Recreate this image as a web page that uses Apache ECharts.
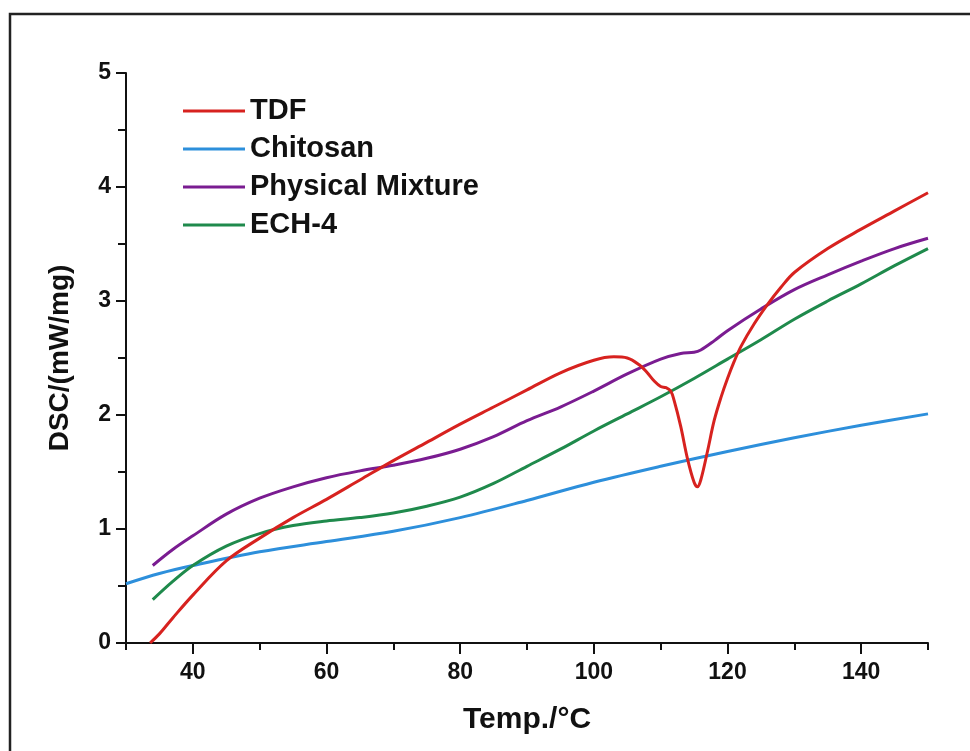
<!DOCTYPE html>
<html>
<head>
<meta charset="utf-8">
<script src="https://cdn.jsdelivr.net/npm/echarts@6/dist/echarts.min.js"></script>
<style>html,body{margin:0;padding:0;background:#fff;}#c{width:970px;height:751px;}</style>
</head>
<body>
<div id="c"></div>
<script>
const seriesNames = ['TDF', 'Chitosan', 'Physical Mixture', 'ECH-4'];
const seriesColors = ['#d7221f', '#2d8fdb', '#7a1c91', '#1f8a4c'];

const tdfX = [33.6, 35, 37, 40, 45, 50, 55, 60, 65, 70, 75, 80, 85, 90, 95, 100, 103, 105, 107, 108, 109, 110, 110.8, 111.5, 112, 113, 114, 115, 115.5, 116, 117, 118, 119, 120, 121, 122, 124, 126, 128, 130, 135, 140, 145, 150];
const tdfY = [0, 0.08, 0.22, 0.42, 0.72, 0.92, 1.1, 1.26, 1.43, 1.6, 1.76, 1.92, 2.07, 2.22, 2.37, 2.48, 2.51, 2.5, 2.43, 2.37, 2.3, 2.25, 2.24, 2.21, 2.13, 1.9, 1.62, 1.41, 1.37, 1.43, 1.68, 1.95, 2.15, 2.32, 2.47, 2.6, 2.8, 2.97, 3.12, 3.25, 3.46, 3.63, 3.79, 3.95];

const chitosanX = [30, 35, 40, 50, 60, 70, 80, 90, 100, 110, 120, 130, 140, 150];
const chitosanY = [0.52, 0.61, 0.68, 0.8, 0.89, 0.98, 1.1, 1.25, 1.41, 1.55, 1.68, 1.8, 1.91, 2.01];

const mixtureX = [34, 37, 40, 45, 50, 55, 60, 65, 70, 75, 80, 85, 90, 95, 100, 105, 110, 113, 115, 116, 118, 120, 125, 130, 135, 140, 145, 150];
const mixtureY = [0.68, 0.82, 0.94, 1.13, 1.27, 1.37, 1.45, 1.51, 1.56, 1.62, 1.7, 1.81, 1.95, 2.07, 2.21, 2.36, 2.49, 2.54, 2.55, 2.57, 2.65, 2.74, 2.93, 3.1, 3.23, 3.35, 3.46, 3.55];

const echX = [34, 37, 40, 45, 50, 55, 60, 65, 70, 75, 80, 85, 90, 95, 100, 105, 110, 115, 120, 125, 130, 135, 140, 145, 150];
const echY = [0.38, 0.54, 0.68, 0.85, 0.96, 1.03, 1.07, 1.1, 1.14, 1.2, 1.28, 1.4, 1.55, 1.7, 1.86, 2.01, 2.16, 2.32, 2.49, 2.66, 2.84, 3.0, 3.15, 3.31, 3.46];

const xMajorTicks = [40, 60, 80, 100, 120, 140];
const xMinorTicks = [30, 50, 70, 90, 110, 130, 150];

function pairs(xs, ys) { return xs.map((x, i) => [x, ys[i]]); }
const allData = [pairs(tdfX, tdfY), pairs(chitosanX, chitosanY), pairs(mixtureX, mixtureY), pairs(echX, echY)];

const chart = echarts.init(document.getElementById('c'));
const FONT = '"Liberation Sans", Arial, sans-serif';
const axisLineStyle = { color: '#111', width: 2 };

chart.setOption({
  animation: false,
  backgroundColor: '#fff',
  grid: { left: 126, right: 42, top: 73, bottom: 108, containLabel: false },
  graphic: [{
    type: 'rect', shape: { x: 10, y: 14, width: 975, height: 760 },
    style: { fill: 'none', stroke: '#222', lineWidth: 2.5 }, silent: true, z: -1
  }],
  legend: {
    orient: 'vertical', left: 178, top: 91,
    itemWidth: 62, itemHeight: 3, itemGap: 8, icon: 'rect',
    textStyle: { fontFamily: FONT, fontWeight: 'bold', fontSize: 29, color: '#111', lineHeight: 30 },
    data: seriesNames
  },
  xAxis: [{
    type: 'value', min: 30, max: 150, position: 'bottom',
    name: 'Temp./°C', nameLocation: 'middle', nameGap: 62,
    nameTextStyle: { fontFamily: FONT, fontWeight: 'bold', fontSize: 30, color: '#111' },
    axisLine: { show: true, lineStyle: axisLineStyle },
    axisTick: { show: true, length: 11, inside: false, customValues: xMajorTicks, lineStyle: { width: 2, color: '#111' } },
    axisLabel: { customValues: xMajorTicks, margin: 18, fontFamily: FONT, fontWeight: 'bold', fontSize: 23, color: '#111' },
    splitLine: { show: false }
  }, {
    type: 'value', min: 30, max: 150, position: 'bottom', offset: 0,
    axisLine: { show: false },
    axisTick: { show: true, length: 7, customValues: xMinorTicks, lineStyle: { width: 2, color: '#111' } },
    axisLabel: { show: false },
    splitLine: { show: false }
  }],
  yAxis: {
    type: 'value', min: 0, max: 5, interval: 1,
    name: 'DSC/(mW/mg)', nameLocation: 'middle', nameGap: 52, nameRotate: 90,
    nameTextStyle: { fontFamily: FONT, fontWeight: 'bold', fontSize: 28, color: '#111' },
    axisLine: { show: true, lineStyle: axisLineStyle },
    axisTick: { show: true, length: 10, lineStyle: { width: 2, color: '#111' } },
    minorTick: { show: true, splitNumber: 2, length: 8, lineStyle: { width: 2, color: '#111' } },
    axisLabel: { margin: 15, fontFamily: FONT, fontWeight: 'bold', fontSize: 23, color: '#111' },
    splitLine: { show: false }
  },
  series: seriesNames.map((n, i) => ({
    name: n, type: 'line', data: allData[i], smooth: 0.35, showSymbol: false, symbol: 'none',
    xAxisIndex: 0, lineStyle: { color: seriesColors[i], width: 3 }, itemStyle: { color: seriesColors[i] },
    z: 3 + (i === 0 ? 1 : 0)
  }))
});
</script>
</body>
</html>
